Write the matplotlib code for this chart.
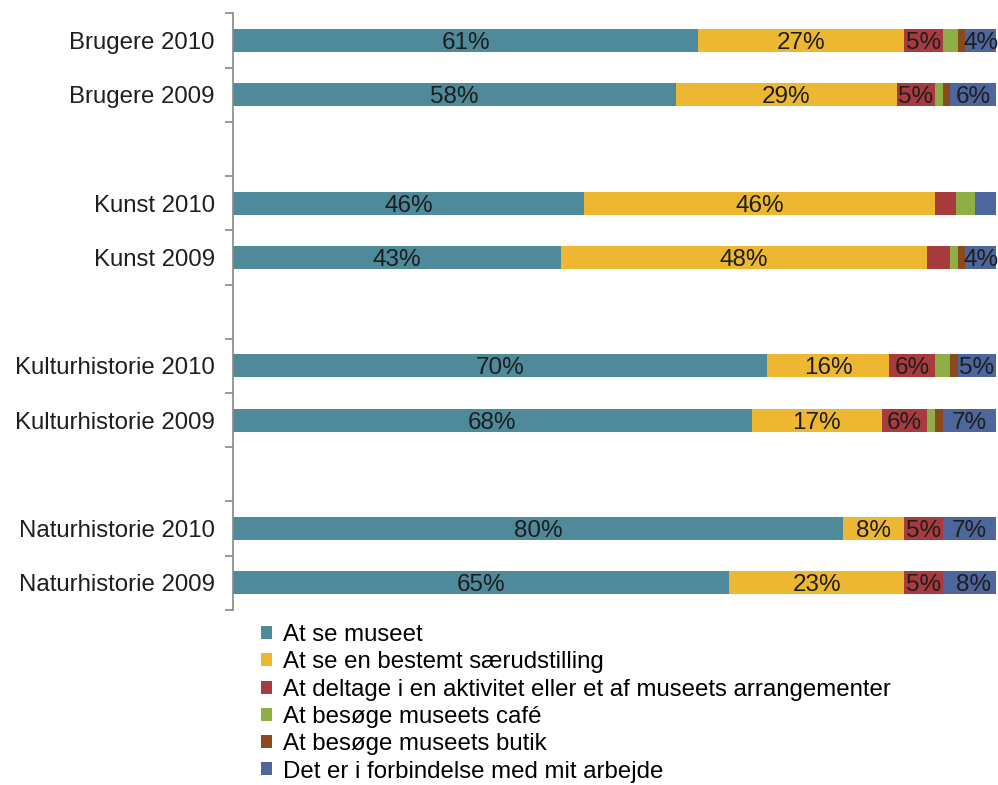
import matplotlib
matplotlib.use("Agg")
import matplotlib.pyplot as plt
import numpy as np

plt.rcParams['font.family'] = ['Liberation Sans', 'DejaVu Sans']

# Rows from bottom to top; empty strings are spacer rows between groups
categories = ["Naturhistorie 2009", "Naturhistorie 2010", "",
              "Kulturhistorie 2009", "Kulturhistorie 2010", "",
              "Kunst 2009", "Kunst 2010", "",
              "Brugere 2009", "Brugere 2010"]

series_names = ["At se museet",
                "At se en bestemt særudstilling",
                "At deltage i en aktivitet eller et af museets arrangementer",
                "At besøge museets café",
                "At besøge museets butik",
                "Det er i forbindelse med mit arbejde"]

se_museet     = [65, 80, 0, 68, 70, 0, 43, 46, 0, 58, 61]
saerudstill   = [23, 8, 0, 17, 16, 0, 48, 46, 0, 29, 27]
aktivitet     = [5, 5, 0, 6, 6, 0, 3, 2.7, 0, 5, 5]
cafe          = [0, 0, 0, 1, 2, 0, 1, 2.6, 0, 1, 2]
butik         = [0, 0, 0, 1, 1, 0, 1, 0, 0, 1, 1]
arbejde       = [8, 7, 0, 7, 5, 0, 4, 2.7, 0, 6, 4]

colors = ["#4F8A9A", "#EDB731", "#A83B3E", "#8FAE45", "#8B4A1E", "#4D669C"]

series = [se_museet, saerudstill, aktivitet, cafe, butik, arbejde]
is_bar = [c != "" for c in categories]

fig = plt.figure(figsize=(9.98, 7.85), dpi=100)
ax = fig.add_axes([0.2335, 0.223, 0.7645, 0.760])

y = np.arange(len(categories))
left = np.zeros(len(categories))
for name, vals, col in zip(series_names, series, colors):
    vals = np.array(vals, dtype=float)
    ax.barh(y, vals, left=left, height=0.42, color=col, label=name,
            edgecolor="none")
    for yi, (l, v, b) in enumerate(zip(left, vals, is_bar)):
        if b and v >= 4:
            ax.text(l + v / 2, yi, f"{v:.0f}%", ha="center",
                    va="center_baseline", fontsize=17.5, color="#1e1e1e")
    left += vals

ax.set_xlim(0, 100)
ax.set_ylim(-0.5, len(categories) - 0.5)
ax.set_yticks(y)
ax.set_yticklabels(categories, fontsize=17.3, color="#1e1e1e")
ax.tick_params(axis="y", which="major", length=0, pad=13)
ax.set_yticks(np.arange(-0.5, len(categories), 1.0), minor=True)
ax.tick_params(axis="y", which="minor", length=6, color="#888888", width=1.2)
ax.set_xticks([])
for s in ["top", "right", "bottom"]:
    ax.spines[s].set_visible(False)
ax.spines["left"].set_color("#888888")
ax.spines["left"].set_linewidth(1.2)

handles, labels = ax.get_legend_handles_labels()
fig.legend(handles, labels, loc="upper left", bbox_to_anchor=(0.262, 0.205),
           frameon=False, fontsize=17.3, handlelength=0.45, handleheight=0.45,
           handletextpad=0.45, labelspacing=0.22, borderaxespad=0,
           borderpad=0)

fig.savefig("out.png", dpi=100)
